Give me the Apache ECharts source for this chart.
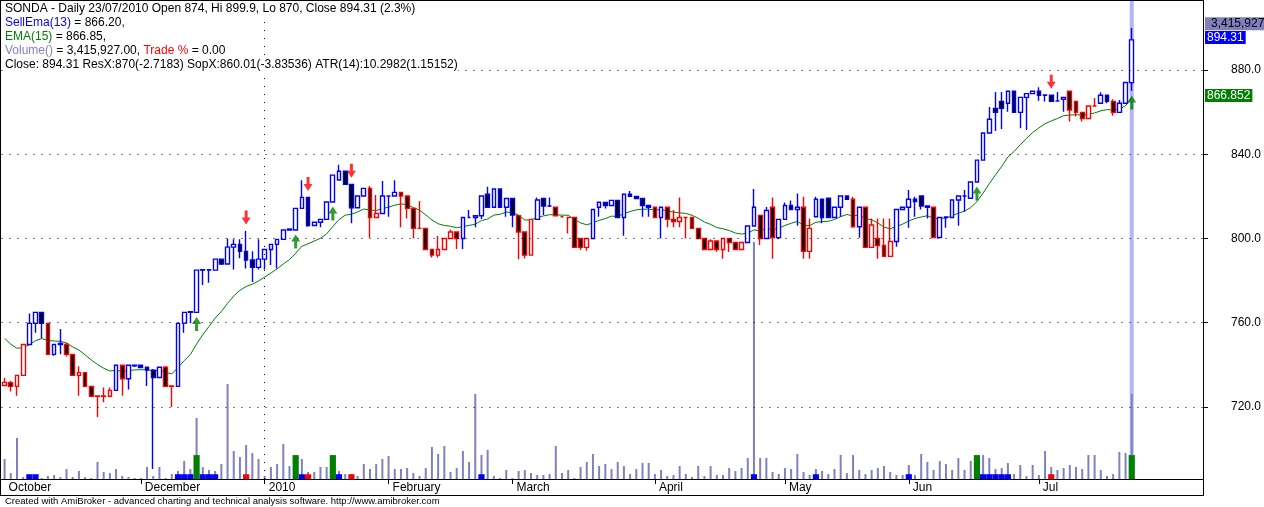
<!DOCTYPE html>
<html><head><meta charset="utf-8">
<script src="https://cdn.jsdelivr.net/npm/echarts@6/dist/echarts.min.js"></script>
<style>html,body{margin:0;padding:0;background:#fff;}#c{width:1264px;height:507px;}</style>
</head><body><div id="c"></div>
<script>
// ---- data (SONDA daily, Oct 2009 - 23 Jul 2010) ----
const opens = [
730.2,731.5,729.8,735.0,749.7,759.7,764.9,759.7,745.0,749.7,
749.7,745.0,735.0,736.3,729.8,725.1,725.1,725.1,727.9,739.8,
733.4,739.6,739.8,738.9,737.5,734.0,738.9,729.8,729.8,759.8,
764.9,764.9,785.0,785.0,785.0,790.2,787.9,795.9,797.2,793.9,
789.8,786.3,790.2,794.8,797.2,799.6,804.0,804.0,814.3,819.5,
806.2,807.7,809.1,817.3,827.8,831.9,825.7,814.6,820.2,823.8,
810.0,811.9,820.2,820.2,821.9,820.2,814.3,804.8,804.8,794.8,
792.1,794.8,800.0,803.1,800.0,810.0,810.0,810.8,821.0,814.8,
823.5,814.8,819.0,810.8,803.1,792.1,809.1,819.0,815.4,814.8,
810.3,810.0,810.0,800.0,795.8,800.0,814.8,817.1,815.7,818.1,
810.0,821.0,820.0,819.0,815.7,814.8,810.0,814.8,809.1,808.1,
810.0,810.0,804.8,800.0,794.8,798.8,794.8,800.0,798.1,794.8,
798.1,805.9,811.0,800.0,814.8,800.4,809.1,815.7,813.8,814.8,
793.9,810.3,818.6,819.1,810.0,814.8,820.2,818.6,805.6,814.8,
795.8,800.0,796.7,791.5,798.6,813.8,814.8,818.6,820.2,815.4,
814.8,800.5,810.0,810.0,818.3,820.2,819.1,826.8,837.2,850.1,
861.8,865.1,864.2,869.9,859.9,867.0,868.8,869.9,868.0,868.0,
865.3,866.1,869.9,865.1,859.9,857.0,862.9,864.2,868.0,865.1,
859.9,864.2,874.0];
const highs = [
733.9,732.5,735.0,749.7,764.4,764.9,765.0,759.7,749.7,757.0,
750.5,745.0,739.4,736.3,729.8,725.5,729.3,729.3,739.8,740.0,
740.0,740.0,739.8,739.0,738.0,739.0,739.5,730.0,759.7,764.9,
765.2,785.0,785.3,785.3,790.2,790.2,800.0,799.6,799.6,803.5,
793.9,799.6,794.8,797.2,799.6,804.3,804.5,814.3,827.6,819.5,
807.7,809.1,817.3,830.1,835.0,831.9,825.7,820.2,823.8,824.9,
820.6,827.3,820.5,827.7,821.9,820.2,814.3,817.8,804.8,795.0,
801.2,800.0,804.3,803.1,810.0,813.5,810.8,820.2,824.6,823.5,
823.5,819.0,819.0,810.8,803.1,809.1,819.5,819.0,819.5,814.8,
810.5,810.2,810.0,800.0,800.0,813.8,817.2,817.1,818.1,818.1,
821.0,822.5,820.0,819.0,815.7,814.8,814.8,814.8,813.5,819.5,
810.2,810.0,804.8,800.0,799.6,798.8,800.0,800.0,798.1,798.1,
806.2,823.5,811.0,815.0,819.5,809.1,817.1,818.0,821.4,819.8,
809.5,819.8,818.6,819.1,814.8,820.2,820.2,819.8,814.8,814.8,
809.5,809.5,809.5,809.5,813.8,814.8,823.0,819.8,820.2,815.4,
814.8,810.0,810.2,818.3,820.2,823.0,826.8,837.2,850.1,862.4,
869.6,869.6,869.9,870.0,867.0,868.8,870.0,871.8,868.2,868.0,
869.6,867.0,869.9,865.1,859.9,862.9,866.7,869.4,868.0,866.1,
865.7,874.1,899.9];
const lows = [
730.0,727.3,725.3,735.0,749.7,755.3,752.6,745.0,744.3,745.0,
744.0,735.0,725.3,729.8,725.1,715.3,722.2,725.0,727.9,725.3,
728.3,739.0,738.5,730.0,690.6,734.0,729.8,720.0,729.8,755.2,
759.8,764.9,777.9,779.0,785.0,787.4,787.9,785.3,790.6,785.8,
779.4,785.3,785.3,787.4,785.8,799.6,804.0,804.0,814.3,805.6,
806.2,805.3,809.1,817.3,827.8,825.7,807.2,814.6,820.2,800.4,
810.0,811.9,810.3,820.2,805.3,809.5,800.0,804.6,794.8,791.0,
791.0,794.8,800.0,795.0,795.0,810.0,805.3,809.2,814.8,814.8,
814.8,810.3,805.3,790.2,790.5,792.1,809.1,811.1,815.0,810.8,
810.1,802.4,795.8,794.5,794.2,800.0,810.3,814.3,815.7,810.0,
801.3,820.0,819.0,810.3,810.3,810.0,800.0,805.3,805.3,805.3,
800.0,804.8,800.0,794.8,794.8,793.7,790.4,793.6,794.8,794.8,
798.1,805.9,796.9,800.0,790.4,799.6,809.1,813.8,806.1,790.4,
790.4,810.3,807.2,810.0,810.0,810.3,818.6,805.1,800.4,795.8,
795.8,790.4,791.5,791.5,796.1,813.8,805.1,810.3,813.8,809.5,
800.5,800.5,805.1,810.0,806.1,812.7,819.1,826.8,837.2,850.1,
851.0,852.0,860.2,859.9,852.3,851.5,868.8,865.4,865.0,865.1,
865.3,860.2,855.5,857.9,855.5,857.0,862.9,864.2,864.2,858.3,
859.9,864.2,870.0];
const closes = [
731.7,729.8,735.0,749.7,759.7,764.9,759.7,745.0,749.7,750.2,
745.0,735.0,736.3,729.8,725.1,725.3,725.3,727.9,739.8,733.4,
739.8,739.8,738.7,737.5,734.0,738.9,729.8,730.0,759.7,764.9,
765.2,785.0,785.2,785.2,790.2,787.9,795.9,797.2,793.9,789.8,
786.3,790.2,794.8,797.2,799.6,804.0,804.5,814.3,819.5,806.2,
807.7,809.1,817.3,830.1,831.9,825.7,814.6,820.2,823.8,810.0,
811.9,820.2,820.2,821.9,820.2,814.3,804.8,804.8,794.8,792.1,
794.8,800.0,803.1,800.0,810.0,810.0,810.8,820.2,814.8,823.5,
814.8,819.0,811.1,803.1,792.1,809.1,818.3,815.4,815.4,810.8,
810.3,810.0,795.8,795.8,800.0,813.8,817.2,815.7,818.1,810.0,
821.0,820.0,819.0,815.7,814.8,810.0,814.8,809.1,808.1,810.0,
810.0,804.8,800.0,794.8,798.8,794.8,800.0,798.1,794.8,798.1,
805.9,814.8,800.0,813.3,800.4,809.1,815.7,813.8,814.8,793.9,
804.8,818.6,810.0,810.0,814.8,820.2,818.6,805.6,814.8,795.8,
806.4,796.6,791.5,798.6,813.8,814.8,818.6,817.5,815.4,814.8,
800.5,810.0,810.2,818.3,820.2,820.2,826.8,837.2,850.1,856.6,
859.9,861.8,869.9,859.9,867.0,868.8,869.9,868.0,868.2,865.1,
865.3,867.0,861.0,859.9,857.0,862.9,862.9,868.0,865.1,859.9,
864.2,874.1,894.31];
const ema15 = [
752.6,749.8,747.9,748.1,749.6,751.5,752.5,751.6,751.3,751.2,
750.4,748.5,747.0,744.8,742.3,740.2,738.4,737.1,737.4,736.9,
737.3,737.6,737.7,737.7,737.2,737.4,736.5,735.7,738.7,742.0,
744.9,749.9,754.3,758.2,762.2,765.4,769.2,772.7,775.4,777.2,
778.3,779.8,781.7,783.6,785.6,787.9,790.0,793.0,796.3,797.5,
798.8,800.1,802.2,805.7,809.0,811.1,811.5,812.6,814.0,813.5,
813.3,814.2,814.9,815.8,816.4,816.1,814.7,813.5,811.2,808.8,
807.0,806.2,805.8,805.1,805.7,806.2,806.8,808.5,809.3,811.1,
811.5,812.5,812.3,811.1,808.8,808.8,810.0,810.7,811.3,811.2,
811.1,811.0,809.1,807.4,806.5,807.4,808.6,809.5,810.6,810.5,
811.8,812.8,813.6,813.9,814.0,813.5,813.7,813.1,812.5,812.2,
811.9,811.0,809.6,807.8,806.7,805.2,804.6,803.8,802.6,802.1,
802.5,804.1,803.6,804.8,804.2,804.8,806.2,807.2,808.1,806.3,
806.1,807.7,808.0,808.2,809.0,810.4,811.4,810.7,811.2,809.3,
808.9,807.4,805.4,804.6,805.7,806.8,808.3,809.5,810.2,810.8,
809.5,809.6,809.7,810.8,812.0,813.0,814.7,817.5,821.6,826.0,
830.2,834.2,838.7,841.3,844.5,847.5,850.3,852.5,854.5,855.8,
857.0,858.3,858.6,858.8,858.5,859.1,859.6,860.6,861.2,861.0,
861.4,863.0,866.9];
// volume in thousands of shares
const volumeK = [
804,241,1648,80,161,80,40,121,161,80,
402,80,322,80,40,683,281,241,402,121,
80,40,40,482,121,482,40,201,322,724,
402,2452,482,362,322,603,3819,1126,884,1367,
1045,804,121,482,603,1407,523,442,804,281,
281,482,482,482,322,201,201,121,603,402,
603,804,925,402,402,442,241,121,442,1286,
1005,1327,281,442,1126,683,3417,965,1166,121,
40,362,40,322,362,241,161,161,201,1327,
241,362,40,482,683,1005,523,603,402,683,
523,201,402,643,643,201,362,121,161,523,
201,80,523,121,523,161,161,442,322,442,
844,9527,844,844,281,201,442,402,1005,281,
161,402,322,201,402,965,241,965,362,201,
362,442,523,281,161,161,563,161,1005,683,
362,724,603,362,844,362,724,322,965,844,
402,442,643,201,563,121,563,161,1126,482,
362,442,563,482,402,965,965,362,121,201,
1085,1045,3416];
// candle outline colour per bar: b = blue, r = red
const candleColor = ('rrrrbbbrbb' + 'rrrrrrrrbr' + 'bbbbbbrrbb' + 'bbbbbbbbbb' + 'bbbbbbbbbb' +
  'bbbbbbbbbr' + 'rbbbrrrrrr' + 'rrrrbbbbbb' + 'bbbrrrbbbr' + 'rrrrrbbbbb' +
  'bbbbbrbrrr' + 'rrrrrrrrrr' + 'bbrbrbbbbr' + 'rbbbbbbrbr' + 'rrrrbbbbbb' +
  'rbbbbbbbbb' + 'bbbbbbbbbb' + 'bbrrrrrbbr' + 'bbb').split('');
const buyIdx = [31, 47, 53, 157, 182];
const sellIdx = [39, 49, 56, 169];
const holdIdx = [4, 5, 28, 29, 30, 32, 33, 34, 48, 54, 77, 121, 131, 146, 158, 159, 160, 161, 162];
const monthStartIdx = [0, 22, 42, 62, 82, 105, 126, 146, 167];
const monthLabels = ['October', 'December', '2010', 'February', 'March', 'April', 'May', 'Jun', 'Jul'];
const priceTicks = [720, 760, 800, 840, 880];
const yearLineIdx = 42;
const blankBars = 11;
const priceMin = 685.81, priceMax = 912.76;
const volMaxK = 19210;
const signalMax = 100, buyLevel = 5, markLevel = 1;
const legendLines = [
  'SONDA - Daily 23/07/2010 Open 874, Hi 899.9, Lo 870, Close 894.31 (2.3%)',
  '{b|SellEma(13)} = 866.20,',
  '{g|EMA(15)} = 866.85,',
  '{v|Volume()} = 3,415,927.00, {r|Trade %} = 0.00',
  'Close: 894.31 ResX:870(-2.7183) SopX:860.01(-3.83536) ATR(14):10.2982(1.15152)'
];
const footerText = 'Created with AmiBroker - advanced charting and technical analysis software. http://www.amibroker.com';

// ---- build ----
const FONT = '"Liberation Sans", Arial, sans-serif';
const BLUE = '#0000ff', RED = '#ff0000', GREEN = '#008000', VOLC = '#8080c0';
const N = closes.length;
const TOTAL = N + blankBars;
const cats = Array.from({length: TOTAL}, (_, i) => 'b' + i);

const candleData = cats.map((c, i) => {
  if (i >= N) return '-';
  const col = candleColor[i] === 'b' ? BLUE : RED;
  const fill = closes[i] >= opens[i] ? '#ffffff' : '#000000';
  return {value: [opens[i], closes[i], lows[i], highs[i]],
    itemStyle: {color: fill, color0: fill, borderColor: col, borderColor0: col}};
});
const volData = cats.map((c, i) => i < N ? volumeK[i] : null);
const emaData = cats.map((c, i) => i < N ? ema15[i] : null);
const sigData = cats.map((c, i) => {
  if (buyIdx.includes(i)) return {value: buyLevel, itemStyle: {color: GREEN}};
  if (sellIdx.includes(i)) return {value: markLevel, itemStyle: {color: RED}};
  if (holdIdx.includes(i)) return {value: markLevel, itemStyle: {color: BLUE}};
  return null;
});
const cursorData = cats.map((c, i) => i === N - 1 ? signalMax : null);
const buyPts = buyIdx.map(i => [cats[i], lows[i]]);
const sellPts = sellIdx.map(i => [cats[i], highs[i]]);

const hidX = (extra) => Object.assign({type: 'category', data: cats, gridIndex: 0, show: false, boundaryGap: true}, extra || {});
const chart = echarts.init(document.getElementById('c'), null, {renderer: 'canvas'});
const dotted = {color: '#000', width: 1, type: [1, 7]};

const option = {
  animation: false,
  backgroundColor: '#fff',
  grid: {left: 1.5, right: 60, top: 1, bottom: 28},
  xAxis: [
    {type: 'category', data: cats, boundaryGap: true,
      axisLine: {show: false},
      axisTick: {show: true, alignWithLabel: true, length: 5,
        interval: (i) => monthStartIdx.includes(i) && i !== 0,
        lineStyle: {color: '#000', width: 1}},
      axisLabel: {show: true, interval: (i) => monthStartIdx.includes(i),
        formatter: (v, i) => { const k = monthStartIdx.indexOf(i); return k >= 0 ? monthLabels[k] : ''; },
        align: 'left', padding: [0, 0, 0, 4], margin: 2, verticalAlign: 'top',
        color: '#000', fontSize: 12, fontFamily: FONT, lineHeight: 14},
      splitLine: {show: false}},
    hidX(), hidX(), hidX()
  ],
  yAxis: [
    {type: 'value', position: 'right', min: priceMin, max: priceMax, scale: true,
      axisLine: {show: false},
      axisTick: {show: true, length: 5, customValues: priceTicks, lineStyle: {color: '#000'}},
      axisLabel: {customValues: priceTicks, formatter: (v) => Number(v).toFixed(1), margin: 28,
        color: '#000', fontSize: 12, fontFamily: FONT},
      splitLine: {show: false}},
    {type: 'value', min: 0, max: volMaxK, show: false, splitLine: {show: false}},
    {type: 'value', min: 0, max: signalMax, show: false, splitLine: {show: false}}
  ],
  series: [
    {name: 'cursor', type: 'bar', xAxisIndex: 3, yAxisIndex: 2, data: cursorData,
      barWidth: 4, itemStyle: {color: '#b4b4f6'}, z: 0, silent: true},
    {name: 'EMA(15)', type: 'line', xAxisIndex: 0, yAxisIndex: 0, data: emaData,
      symbol: 'none', lineStyle: {color: GREEN, width: 1}, z: 1, silent: true,
      markLine: {silent: true, symbol: 'none', label: {show: false}, lineStyle: dotted,
        emphasis: {disabled: true},
        data: priceTicks.map(v => ({yAxis: v})).concat([{xAxis: cats[yearLineIdx]}])}},
    {name: 'Volume', type: 'bar', xAxisIndex: 1, yAxisIndex: 1, data: volData,
      barWidth: 2, itemStyle: {color: VOLC}, z: 2, silent: true},
    {name: 'Signals', type: 'bar', xAxisIndex: 2, yAxisIndex: 2, data: sigData,
      barWidth: '100%', z: 2, silent: true},
    {name: 'SONDA', type: 'candlestick', xAxisIndex: 0, yAxisIndex: 0, data: candleData,
      barWidth: 4.2, itemStyle: {borderWidth: 1.4}, z: 3, silent: true},
    {name: 'Buy', type: 'scatter', xAxisIndex: 0, yAxisIndex: 0, data: buyPts,
      symbol: 'path://M4.5,0L9,7L6,7L6,14L3,14L3,7L0,7Z', symbolSize: [9, 14], symbolOffset: [0, 11.5],
      itemStyle: {color: GREEN}, z: 4, silent: true},
    {name: 'Sell', type: 'scatter', xAxisIndex: 0, yAxisIndex: 0, data: sellPts,
      symbol: 'path://M3,0L6,0L6,7L9,7L4.5,14L0,7L3,7Z', symbolSize: [9, 14], symbolOffset: [0, -13.5],
      itemStyle: {color: RED}, z: 4, silent: true}
  ]
};
chart.setOption(option);

// overlay: frame, legend text, value boxes, footer
const yClose = chart.convertToPixel({yAxisIndex: 0}, closes[N - 1]);
const yEma = chart.convertToPixel({yAxisIndex: 0}, ema15[N - 1]);
const line = (x1, y1, x2, y2) => ({type: 'line', z: 100, silent: true,
  shape: {x1, y1, x2, y2}, style: {stroke: '#000', lineWidth: 1}});
const richStyles = {
  b: {fill: BLUE, font: '12px ' + FONT},
  g: {fill: GREEN, font: '12px ' + FONT},
  v: {fill: VOLC, font: '12px ' + FONT},
  r: {fill: RED, font: '12px ' + FONT}
};
const gfx = [
  line(0, 0.5, 1204, 0.5), line(0.5, 0, 0.5, 496), line(1203.5, 0, 1203.5, 496),
  line(0, 479.5, 1204, 479.5), line(0, 495.5, 1204, 495.5)
];
legendLines.forEach((t, k) => gfx.push({type: 'text', z: 101, silent: true,
  style: {x: 5, y: 8.5 + 14 * k, text: t, font: '12px ' + FONT, fill: '#000',
    verticalAlign: 'middle', lineHeight: 14, backgroundColor: '#fff', rich: richStyles}}));
gfx.push({type: 'text', z: 101, silent: true, style: {x: 1205, y: yClose - 16, text: '3,415,927',
  font: '12px ' + FONT, fill: '#000', verticalAlign: 'middle', backgroundColor: VOLC, padding: [1, 4, 0, 6]}});
gfx.push({type: 'text', z: 101, silent: true, style: {x: 1205, y: yClose - 2.4, text: '894.31',
  font: '12px ' + FONT, fill: '#fff', verticalAlign: 'middle', backgroundColor: BLUE, padding: [1, 2, 0, 2]}});
gfx.push({type: 'text', z: 101, silent: true, style: {x: 1205, y: yEma - 2, text: '866.852',
  font: '12px ' + FONT, fill: '#fff', verticalAlign: 'middle', backgroundColor: GREEN, padding: [1, 2, 0, 2]}});
gfx.push({type: 'text', z: 101, silent: true, style: {x: 5, y: 501, text: footerText,
  font: '9.5px ' + FONT, fill: '#000', verticalAlign: 'middle'}});
chart.setOption({graphic: gfx});
</script>
</body></html>
